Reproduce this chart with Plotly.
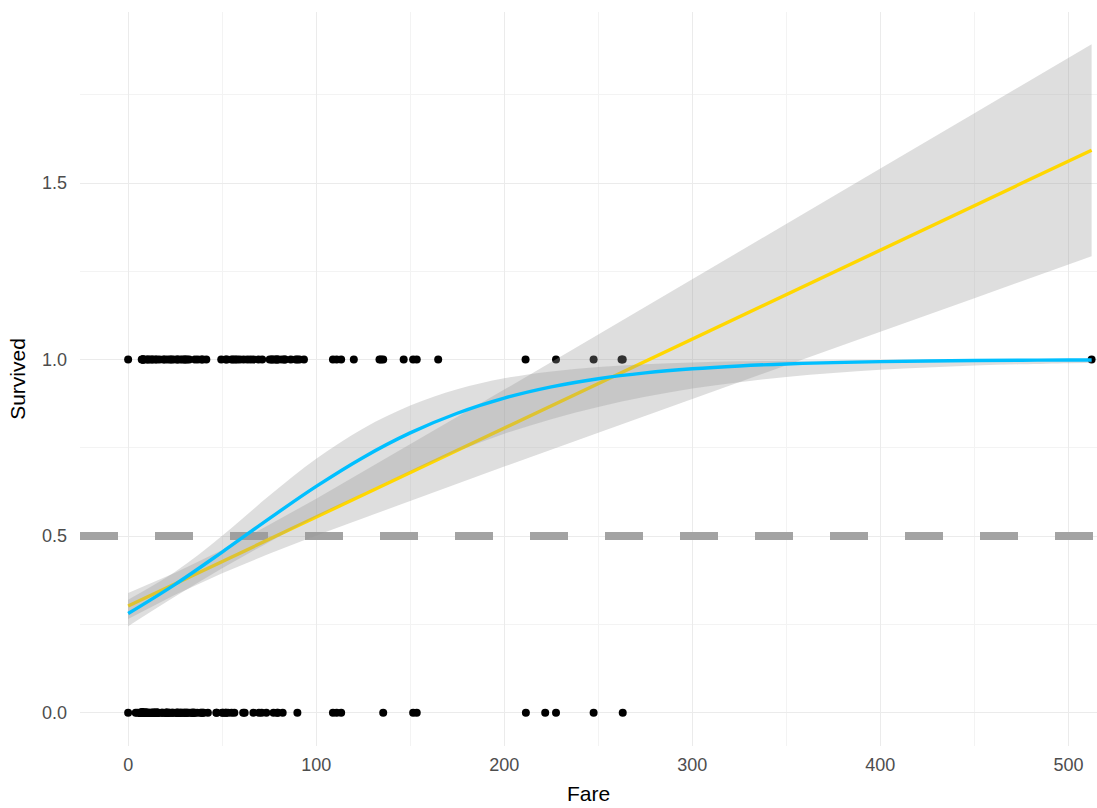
import plotly.graph_objects as go

# ---- data ----
fare_survived = [0, 7.225, 7.75, 7.8792, 7.925, 8.05, 9.5, 10.5, 11.1333, 12.475, 13, 14.4542,
                 15.2458, 16.7, 18.75, 19.5, 21, 22.3583, 23, 24.15, 26, 26.25, 27.75, 29, 30,
                 30.5, 31.3875, 32.5, 35.5, 37.0042, 39, 39.6, 41.5792,
                 49.5, 51.8625, 52.5542, 55, 55.9, 57, 57.9792, 59.4, 61.3792, 63.3583, 65,
                 66.6, 69.3, 71.2833, 75.25, 76.2917, 76.7292, 77.9583, 78.85, 79.2, 80,
                 81.8583, 83.1583, 83.475, 86.5, 89.1042, 90, 91.0792, 93.5,
                 108.9, 110.8833, 113.275, 120, 133.65, 134.5, 135.6333, 146.5208, 151.55,
                 153.4625, 164.8667, 211.3375, 227.525, 247.5208, 262.375, 263, 512.3292]
fare_died = [0, 4.0125, 5, 6.2375, 6.4375, 6.45, 6.4958, 6.75, 6.8583, 6.95, 6.975, 7.05, 7.125,
             7.225, 7.25, 7.4958, 7.5208, 7.55, 7.65, 7.725, 7.75, 7.775, 7.7958, 7.8542, 7.875,
             7.8958, 7.925, 8.05, 8.1125, 8.3, 8.4042, 8.4333, 8.6542, 8.6625, 8.7125, 9, 9.2167,
             9.35, 9.475, 9.5, 9.5875, 9.825, 9.8417, 10.1708, 10.4625, 10.5, 11.1333, 11.5,
             12.275, 12.525, 12.875, 13, 13.4167, 13.5, 13.8583, 14, 14.1083, 14.4, 14.4542, 14.5,
             15.05, 15.1, 15.2458, 15.5, 15.55, 15.7417, 15.85, 16.1, 17.8, 18, 18.75, 19.9667,
             20.2125, 20.25, 20.525, 20.575, 21, 21.075, 21.6792, 22.025, 23.25, 23.45, 24.15,
             25.4667, 25.925, 26, 26.25, 26.55, 27, 27.7208, 27.9, 28.5, 29.125, 30, 30.0708,
             30.6958, 31.275, 31.3875, 32.3208, 33.5, 34.0208, 34.375, 34.6542, 35, 35.5, 36.75,
             38.5, 39, 39.6875, 40.125, 42.4, 46.9, 47.1, 50, 50.4958, 51.8625, 52, 53.1, 55,
             56.4958, 61.175, 61.9792, 66.6, 69.55, 71, 73.5, 77.2875, 79.2, 79.65, 82.1708, 90,
             108.9, 110.8833, 113.275, 135.6333, 151.55, 153.4625, 211.5, 221.7792, 227.525,
             247.5208, 263]

# linear fit (yellow) and its confidence band
lm_x = [0, 25, 50, 75, 100, 150, 200, 250, 300, 350, 400, 450, 500, 512.3292]
lm_fit = [0.302, 0.365, 0.428, 0.491, 0.554, 0.680, 0.806, 0.932, 1.058, 1.184, 1.310, 1.436, 1.562, 1.593]
lm_lo = [0.265, 0.334, 0.395, 0.450, 0.502, 0.600, 0.697, 0.793, 0.889, 0.984, 1.079, 1.174, 1.269, 1.293]
lm_hi = [0.339, 0.396, 0.461, 0.532, 0.606, 0.760, 0.915, 1.071, 1.227, 1.384, 1.541, 1.698, 1.855, 1.893]

# logistic fit (blue) and its confidence band
glm_x = [0, 25, 50, 75, 100, 125, 150, 175, 200, 225, 250, 275, 300, 325, 350, 375, 400,
         425, 450, 475, 500, 512.3292]
glm_fit = [0.2806, 0.3633, 0.4549, 0.5496, 0.6408, 0.7229, 0.7923, 0.8480, 0.8908, 0.9226,
           0.9458, 0.9623, 0.9739, 0.9820, 0.9876, 0.9915, 0.9942, 0.9960, 0.9973, 0.9981,
           0.9987, 0.9989]
glm_lo = [0.245, 0.329, 0.409, 0.4835, 0.555, 0.622, 0.684, 0.7406, 0.790, 0.8313, 0.866,
          0.8947, 0.918, 0.936, 0.951, 0.9619, 0.971, 0.9775, 0.983, 0.9868, 0.9899, 0.9912]
glm_hi = [0.320, 0.399, 0.501, 0.614, 0.719, 0.805, 0.870, 0.916, 0.947, 0.9665, 0.979,
          0.9871, 0.992, 0.9951, 0.997, 0.9981, 0.9989, 0.9993, 0.9996, 0.99974, 0.99984, 0.99987]

THRESHOLD = 0.5
X_RANGE = [-25.6, 515.2]
Y_RANGE = [-0.0945, 1.9845]
x_ticks = [0, 100, 200, 300, 400, 500]
y_ticks = [0.0, 0.5, 1.0, 1.5]
y_tick_labels = ["0.0", "0.5", "1.0", "1.5"]

BAND = "rgba(153,153,153,0.32)"
FONT = "Liberation Sans, Arial, sans-serif"

fig = go.Figure()

# dashed threshold line (drawn first, above the grid)
fig.add_trace(go.Scatter(x=X_RANGE, y=[THRESHOLD, THRESHOLD], mode="lines",
                         line=dict(color="#A3A3A3", width=8, dash="38px,37px"),
                         hoverinfo="skip"))

fig.add_trace(go.Scatter(x=fare_survived, y=[1] * len(fare_survived), mode="markers",
                         marker=dict(color="black", size=8), hoverinfo="skip"))
fig.add_trace(go.Scatter(x=fare_died, y=[0] * len(fare_died), mode="markers",
                         marker=dict(color="black", size=8), hoverinfo="skip"))

# linear band + line
fig.add_trace(go.Scatter(x=lm_x, y=lm_lo, mode="lines", line=dict(width=0), hoverinfo="skip"))
fig.add_trace(go.Scatter(x=lm_x, y=lm_hi, mode="lines", line=dict(width=0), fill="tonexty",
                         fillcolor=BAND, hoverinfo="skip"))
fig.add_trace(go.Scatter(x=lm_x, y=lm_fit, mode="lines", line=dict(color="#FFD700", width=3.4)))

# logistic band + line
fig.add_trace(go.Scatter(x=glm_x, y=glm_lo, mode="lines", line=dict(width=0, shape="spline"),
                         hoverinfo="skip"))
fig.add_trace(go.Scatter(x=glm_x, y=glm_hi, mode="lines", line=dict(width=0, shape="spline"),
                         fill="tonexty", fillcolor=BAND, hoverinfo="skip"))
fig.add_trace(go.Scatter(x=glm_x, y=glm_fit, mode="lines",
                         line=dict(color="#00BFFF", width=3.4, shape="spline")))

fig.update_layout(
    width=1097, height=808,
    margin=dict(l=80, r=0, t=12, b=62),
    paper_bgcolor="white", plot_bgcolor="white",
    showlegend=False,
    font=dict(family=FONT),
    xaxis=dict(
        range=X_RANGE, tickvals=x_ticks, ticks="", showline=False, zeroline=False,
        automargin=False,
        gridcolor="#EBEBEB", gridwidth=1.4,
        minor=dict(dtick=50, tick0=50, showgrid=True, gridcolor="#F3F3F3", gridwidth=0.8),
        tickfont=dict(size=18, color="#4D4D4D"),
        ticklabelstandoff=6,
        title=dict(text="Fare", font=dict(size=21, color="black"), standoff=12),
    ),
    yaxis=dict(
        range=Y_RANGE, tickvals=y_ticks, ticktext=y_tick_labels, ticks="",
        showline=False, zeroline=False, automargin=False,
        gridcolor="#EBEBEB", gridwidth=1.4,
        minor=dict(dtick=0.25, tick0=0.25, showgrid=True, gridcolor="#F3F3F3", gridwidth=0.8),
        tickfont=dict(size=18, color="#4D4D4D"),
        ticklabelstandoff=12,
        title=dict(text="Survived", font=dict(size=21, color="black"), standoff=10),
    ),
)

fig.write_html("out.html", config={"displayModeBar": False},
               post_script="document.body.style.margin='0';document.body.style.overflow='hidden';")
